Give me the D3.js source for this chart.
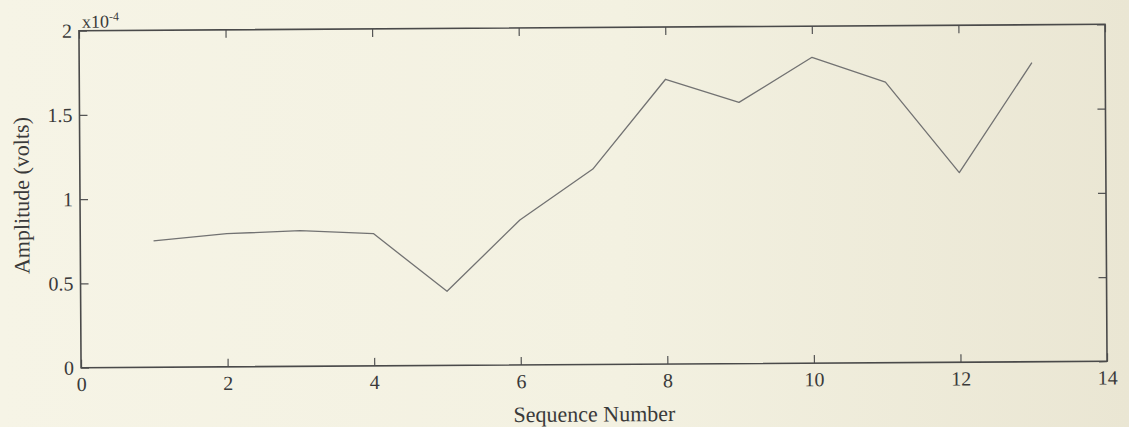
<!DOCTYPE html>
<html>
<head>
<meta charset="utf-8">
<script src="https://cdn.jsdelivr.net/npm/d3@7"></script>
<style>
  html, body { margin: 0; padding: 0; background: #f3f1e2; }
  svg { display: block; }
</style>
</head>
<body>
<svg id="chart" width="1129" height="427"></svg>
<script>
// Amplitude per sequence number, in units of 1e-4 volts
const sequence = [1, 2, 3, 4, 5, 6, 7, 8, 9, 10, 11, 12, 13];
const amplitude = [0.75, 0.79, 0.805, 0.785, 0.44, 0.86, 1.16, 1.69, 1.55, 1.815, 1.665, 1.125, 1.775];
const xTicks = [0, 2, 4, 6, 8, 10, 12, 14];
const yTicks = [0, 0.5, 1, 1.5, 2];
const yTickLabels = ["0", "0.5", "1", "1.5", "2"];

const W = 1129, H = 427;
const m = { left: 80, right: 23, top: 27.5, bottom: 62.5 };
const iw = W - m.left - m.right, ih = H - m.top - m.bottom;

const svg = d3.select("#chart");

// paper background with a gentle warm shading
const defs = svg.append("defs");
const grad = defs.append("linearGradient").attr("id", "paper")
  .attr("x1", "0%").attr("x2", "100%").attr("y1", "0%").attr("y2", "0%");
grad.append("stop").attr("offset", "0%").attr("stop-color", "#f6f4e6");
grad.append("stop").attr("offset", "55%").attr("stop-color", "#f3f1e1");
grad.append("stop").attr("offset", "100%").attr("stop-color", "#eae6d3");
svg.append("rect").attr("width", W).attr("height", H).attr("fill", "url(#paper)");

const cx = m.left + iw / 2, cy = m.top + ih / 2;
const root = svg.append("g").attr("transform", `rotate(-0.36, ${cx}, ${cy})`);
const g = root.append("g").attr("transform", `translate(${m.left},${m.top})`);

const x = d3.scaleLinear().domain([0, 14]).range([0, iw]);
const y = d3.scaleLinear().domain([0, 2]).range([ih, 0]);

const font = "'Liberation Serif', 'DejaVu Serif', serif";
const ink = "#3a3a3a";
const tickLen = 8;

function styleAxis(sel) {
  sel.select(".domain").remove();
  sel.selectAll(".tick line").attr("stroke", "#555").attr("stroke-width", 1.2);
  sel.selectAll(".tick text").attr("font-family", font).attr("font-size", 20).attr("fill", ink);
}

// bottom axis, ticks pointing inward
g.append("g").attr("transform", `translate(0,${ih})`)
  .call(d3.axisBottom(x).tickValues(xTicks).tickFormat(d3.format("d"))
    .tickSizeInner(-tickLen).tickSizeOuter(0).tickPadding(9))
  .call(styleAxis);

// top axis, ticks only
g.append("g")
  .call(d3.axisTop(x).tickValues(xTicks).tickFormat("")
    .tickSizeInner(-tickLen).tickSizeOuter(0))
  .call(styleAxis);

// left axis
g.append("g")
  .call(d3.axisLeft(y).tickValues(yTicks).tickFormat((d, i) => yTickLabels[i])
    .tickSizeInner(-tickLen).tickSizeOuter(0).tickPadding(7))
  .call(styleAxis);

// right axis, ticks only
g.append("g").attr("transform", `translate(${iw},0)`)
  .call(d3.axisRight(y).tickValues(yTicks).tickFormat("")
    .tickSizeInner(-tickLen).tickSizeOuter(0))
  .call(styleAxis);

// plot frame
g.append("rect").attr("x", 0).attr("y", 0).attr("width", iw).attr("height", ih)
  .attr("fill", "none").attr("stroke", "#4a4a4a").attr("stroke-width", 1.6);

// data line
const line = d3.line().x((d, i) => x(sequence[i])).y(d => y(d));
g.append("path").datum(amplitude)
  .attr("d", line)
  .attr("fill", "none")
  .attr("stroke", "#727272")
  .attr("stroke-width", 1.3)
  .attr("stroke-linejoin", "round");

// exponent marker above the y axis
const expo = g.append("text").attr("x", 3).attr("y", -3)
  .attr("font-family", font).attr("font-size", 18).attr("fill", ink);
expo.append("tspan").text("x10");
expo.append("tspan").attr("dy", -7).attr("font-size", 12).text("-4");

// axis titles
g.append("text")
  .attr("x", iw / 2).attr("y", ih + 57)
  .attr("text-anchor", "middle")
  .attr("font-family", font).attr("font-size", 22).attr("fill", ink)
  .text("Sequence Number");

g.append("text")
  .attr("transform", `translate(${-m.left + 29},${ih / 2 - 4}) rotate(-90)`)
  .attr("text-anchor", "middle")
  .attr("font-family", font).attr("font-size", 22).attr("fill", ink)
  .text("Amplitude (volts)");
</script>
</body>
</html>
